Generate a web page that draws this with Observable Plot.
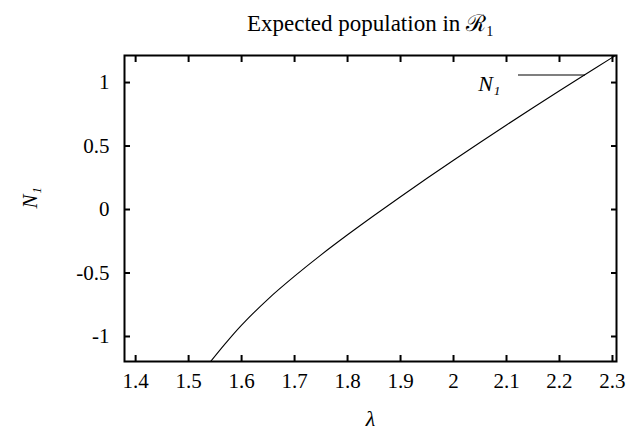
<!DOCTYPE html>
<html>
<head>
<meta charset="utf-8">
<script src="https://cdn.jsdelivr.net/npm/d3@7"></script>
<script src="https://cdn.jsdelivr.net/npm/@observablehq/plot@0.6"></script>
<style>
  html, body { margin: 0; padding: 0; background: #fff; }
  #chart { width: 632px; height: 434px; }
</style>
</head>
<body>
<div id="chart"></div>
<script>
// Data
const lambda = [1.54, 1.57, 1.60, 1.65, 1.70, 1.75, 1.80, 1.85, 1.90, 1.95, 2.00, 2.05, 2.10, 2.15, 2.20, 2.25, 2.30, 2.31];
const n1     = [-1.205, -1.052, -0.91, -0.705, -0.525, -0.357, -0.199, -0.047, 0.101, 0.246, 0.388, 0.528, 0.666, 0.802, 0.936, 1.068, 1.198, 1.224];

const xTicks = [1.4, 1.5, 1.6, 1.7, 1.8, 1.9, 2.0, 2.1, 2.2, 2.3];
const xTickLabels = ["1.4", "1.5", "1.6", "1.7", "1.8", "1.9", "2", "2.1", "2.2", "2.3"];
const yTicks = [-1, -0.5, 0, 0.5, 1];
const yTickLabels = ["-1", "-0.5", "0", "0.5", "1"];

const xDomain = [1.379, 2.3076];
const yDomain = [-1.197, 1.213];

const titleText = "Expected population in ℛ₁";
const xLabel = "λ";
const yLabel = "N₁";
const legendLabel = "N₁";

const data = lambda.map((x, i) => ({x, y: n1[i]}));

const font = "'Liberation Serif', 'DejaVu Serif', serif";

const plot = Plot.plot({
  width: 632,
  height: 434,
  marginLeft: 124,
  marginRight: 16,
  marginTop: 55,
  marginBottom: 73,
  style: {fontFamily: font, fontSize: "21px", color: "#000", background: "#fff", overflow: "visible"},
  x: {domain: xDomain, axis: null},
  y: {domain: yDomain, axis: null},
  marks: [
    // curve
    Plot.line(data, {x: "x", y: "y", stroke: "#000", strokeWidth: 1.1, curve: "catmull-rom", clip: true}),
    // inward ticks on all four sides
    Plot.axisX(xTicks, {anchor: "bottom", tickSize: -6, strokeWidth: 2, tickFormat: () => "", label: null}),
    Plot.axisX(xTicks, {anchor: "top", tickSize: -6, strokeWidth: 2, tickFormat: () => "", label: null}),
    Plot.axisY(yTicks, {anchor: "left", tickSize: -6, strokeWidth: 2, tickFormat: () => "", label: null}),
    Plot.axisY(yTicks, {anchor: "right", tickSize: -6, strokeWidth: 2, tickFormat: () => "", label: null}),
    // tick labels
    Plot.axisX(xTicks, {anchor: "bottom", tickSize: 0, tickPadding: 12, tickFormat: d => xTickLabels[xTicks.indexOf(d)], label: null}),
    Plot.axisY(yTicks, {anchor: "left", tickSize: 0, tickPadding: 15, tickFormat: d => yTickLabels[yTicks.indexOf(d)], label: null}),
    // frame
    Plot.frame({stroke: "#000", strokeWidth: 2}),
    // title and axis labels
    Plot.text([titleText], {frameAnchor: "top", dy: -41, text: d => d, fontSize: 23}),
    Plot.text([xLabel], {frameAnchor: "bottom", dy: 64, text: d => d, fontSize: 22, fontStyle: "italic"}),
    Plot.text([yLabel], {frameAnchor: "left", dx: -94, rotate: -90, text: d => d, fontSize: 21, fontStyle: "italic"}),
    // legend label
    Plot.text([legendLabel], {frameAnchor: "top-right", dx: -116, dy: 20, textAnchor: "end", text: d => d, fontSize: 22, fontStyle: "italic"})
  ]
});

document.getElementById("chart").appendChild(plot);

// legend sample line (top-right key, as in gnuplot)
const svg = d3.select(plot);
const W = 632, mR = 16, mT = 55;
svg.append("line")
  .attr("x1", W - mR - 98).attr("x2", W - mR - 31)
  .attr("y1", mT + 20).attr("y2", mT + 20)
  .attr("stroke", "#000").attr("stroke-width", 1.1);
</script>
</body>
</html>
